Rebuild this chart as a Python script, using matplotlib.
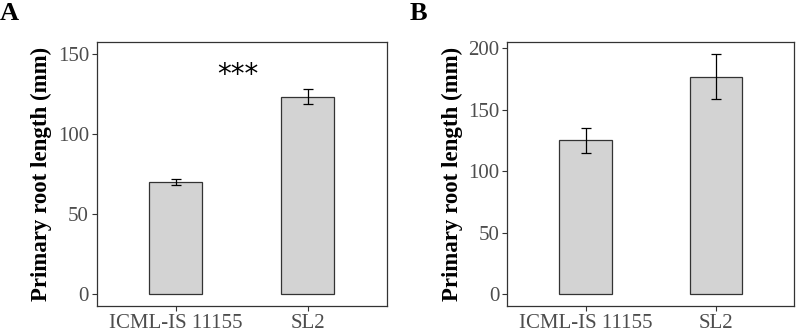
import matplotlib
matplotlib.use("Agg")
import matplotlib.pyplot as plt

plt.rcParams["font.family"] = ["Liberation Serif", "DejaVu Serif"]

genotypes = ["ICML-IS 11155", "SL2"]

# panel A
root_len_a = [70.0, 123.5]
root_err_a = [2.0, 4.5]

# panel B
root_len_b = [125.0, 177.0]
root_err_b = [10.5, 18.5]

fig = plt.figure(figsize=(7.99, 3.28), dpi=100)

W, H = 799.0, 328.0
ax_a = fig.add_axes([96.7 / W, 1 - 306 / H, 290 / W, 263.7 / H])
ax_b = fig.add_axes([507.3 / W, 1 - 306 / H, 287 / W, 263.7 / H])


def draw_panel(ax, vals, errs, ylim, yticks):
    x = list(range(1, len(vals) + 1))
    ax.bar(x, vals, width=0.4, color="#D3D3D3", edgecolor="#333333", linewidth=0.9, zorder=2)
    ax.errorbar(x, vals, yerr=errs, fmt="none", ecolor="black", elinewidth=0.9,
                capsize=3.5, capthick=0.9, zorder=3)
    ax.set_xlim(0.4, 2.6)
    ax.set_ylim(*ylim)
    ax.set_yticks(yticks)
    ax.set_xticks(x)
    ax.set_xticklabels(genotypes)
    for s in ax.spines.values():
        s.set_color("#333333")
        s.set_linewidth(0.9)
    ax.tick_params(axis="both", colors="#333333", length=3.5, width=0.8,
                   labelsize=15, labelcolor="#4D4D4D", pad=2)
    ax.set_ylabel("Primary root length (mm)", fontsize=16.5, fontweight="bold", labelpad=4)


draw_panel(ax_a, root_len_a, root_err_a, (-7.5, 157.5), [0, 50, 100, 150])
draw_panel(ax_b, root_len_b, root_err_b, (-9.76, 204.96), [0, 50, 100, 150, 200])

ax_a.text(1.47, 137.0, "***", ha="center", va="center", fontsize=20, family="DejaVu Sans")

fig.text(0 / W, 1 - 13 / H, "A", fontsize=19, fontweight="bold", ha="left", va="center")
fig.text(410 / W, 1 - 13 / H, "B", fontsize=19, fontweight="bold", ha="left", va="center")

fig.savefig("out.png", dpi=100)
